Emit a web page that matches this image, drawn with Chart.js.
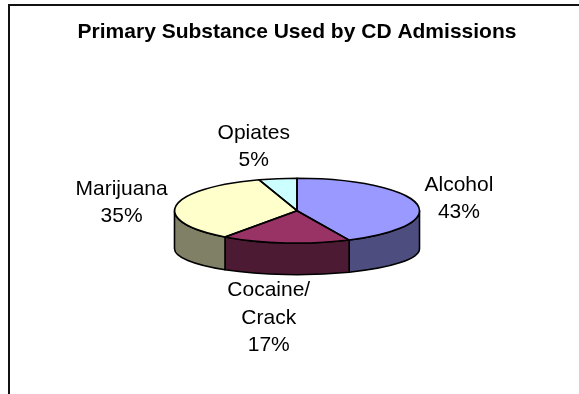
<!DOCTYPE html>
<html lang="en">
<head>
  <meta charset="UTF-8">
  <title>Primary Substance Used by CD Admissions</title>
  <script src="https://cdn.jsdelivr.net/npm/chart.js"></script>
  <style>
    body {
      margin: 0;
      background: #fff;
      overflow: hidden;
    }

    .wrap {
      position: relative;
      width: 579px;
      height: 394px;
      overflow: hidden;
    }

    .frame {
      position: absolute;
      left: 8px;
      top: 4px;
      width: 700px;
      height: 500px;
      border-left: 2px solid #111;
      border-top: 2px solid #111;
    }

    canvas {
      position: absolute;
      left: 0;
      top: 0;
    }
  </style>
</head>
<body>
  <div class="wrap">
    <div class="frame"></div>
    <canvas id="pieChart" width="579" height="394"></canvas>
  </div>

  <script>
    const categories = [["Alcohol"], ["Cocaine/", "Crack"], ["Marijuana"], ["Opiates"]];
    const shares = [43, 17, 35, 5];
    const topColors = ["#9999FF", "#993366", "#FFFFCC", "#CCFFFF"];
    const sideColors = ["#4D4D80", "#4D1A33", "#808066", "#668080"];

    // look of the fake 3d disc
    const tilt = 0.265;        // top ellipse height / width
    const tiltBottom = 0.212;  // bottom rim is a bit flatter
    const depth = 38;
    const labelFont = "21px Arial, 'Liberation Sans', sans-serif";
    const lineH = 27.5;
    const capH = 15;
    const gap = 9;
    const labelNudge = [[0, 0], [-12, -2], [0, 0], [-17, -4]];

    const pie3d = {
      id: "pie3d",
      beforeDatasetsDraw(chart) {
        const ctx = chart.ctx;
        const arcs = chart.getDatasetMeta(0).data;
        const cx = arcs[0].x, cy = arcs[0].y, rx = arcs[0].outerRadius;
        const ry = rx * tilt, ryB = rx * tiltBottom;

        // side wall, only the front half shows
        ctx.save();
        ctx.lineWidth = 1.6;
        ctx.strokeStyle = "#000";
        ctx.lineJoin = "round";
        arcs.forEach((arc, i) => {
          const s = Math.max(arc.startAngle, 0);
          const e = Math.min(arc.endAngle, Math.PI);
          if (e <= s) return;
          ctx.beginPath();
          ctx.ellipse(cx, cy, rx, ry, 0, s, e);
          ctx.ellipse(cx, cy + depth, rx, ryB, 0, e, s, true);
          ctx.closePath();
          ctx.fillStyle = sideColors[i];
          ctx.fill();
          ctx.stroke();
        });
        ctx.restore();

        // squash the pie into an ellipse
        ctx.save();
        ctx.translate(cx, cy);
        ctx.scale(1, tilt);
        ctx.translate(-cx, -cy);
      },
      afterDatasetsDraw(chart) {
        const ctx = chart.ctx;
        ctx.restore();

        const arcs = chart.getDatasetMeta(0).data;
        const cx = arcs[0].x, cy = arcs[0].y, rx = arcs[0].outerRadius;
        const ry = rx * tilt, ryB = rx * tiltBottom;

        ctx.save();
        ctx.lineWidth = 1.6;
        ctx.strokeStyle = "#000";
        ctx.lineJoin = "round";
        arcs.forEach(arc => {
          ctx.beginPath();
          ctx.moveTo(cx, cy);
          ctx.ellipse(cx, cy, rx, ry, 0, arc.startAngle, arc.endAngle);
          ctx.closePath();
          ctx.stroke();
        });

        // labels
        ctx.font = labelFont;
        ctx.fillStyle = "#000";
        ctx.textAlign = "center";
        ctx.textBaseline = "alphabetic";
        arcs.forEach((arc, i) => {
          const mid = (arc.startAngle + arc.endAngle) / 2;
          const c = Math.cos(mid), s = Math.sin(mid);
          const ax = cx + rx * c;
          const ay = s > 0 ? cy + depth + ryB * s : cy + ry * s;
          const lines = categories[i].concat([shares[i] + "%"]);
          const w = Math.max(...lines.map(t => ctx.measureText(t).width));
          const h = (lines.length - 1) * lineH + capH;
          const lx = ax + c * (w / 2 + gap) + labelNudge[i][0];
          const ly = ay + s * (h / 2 + gap) + labelNudge[i][1];
          lines.forEach((t, k) => {
            ctx.fillText(t, lx, ly - h / 2 + capH + k * lineH);
          });
        });
        ctx.restore();
      }
    };

    new Chart(document.getElementById("pieChart"), {
      type: "pie",
      data: {
        labels: categories,
        datasets: [{
          data: shares,
          backgroundColor: topColors,
          borderWidth: 0,
          radius: 122.5
        }]
      },
      options: {
        responsive: false,
        animation: false,
        events: [],
        layout: {
          padding: { top: 6, left: 15, right: 0, bottom: 25.8 }
        },
        plugins: {
          legend: { display: false },
          tooltip: { enabled: false },
          title: {
            display: true,
            text: "Primary Substance Used by CD Admissions",
            color: "#000",
            font: { family: "Arial, 'Liberation Sans', sans-serif", size: 21, weight: "bold" },
            padding: { top: 14, bottom: 8 }
          }
        }
      },
      plugins: [pie3d]
    });
  </script>
</body>
</html>
